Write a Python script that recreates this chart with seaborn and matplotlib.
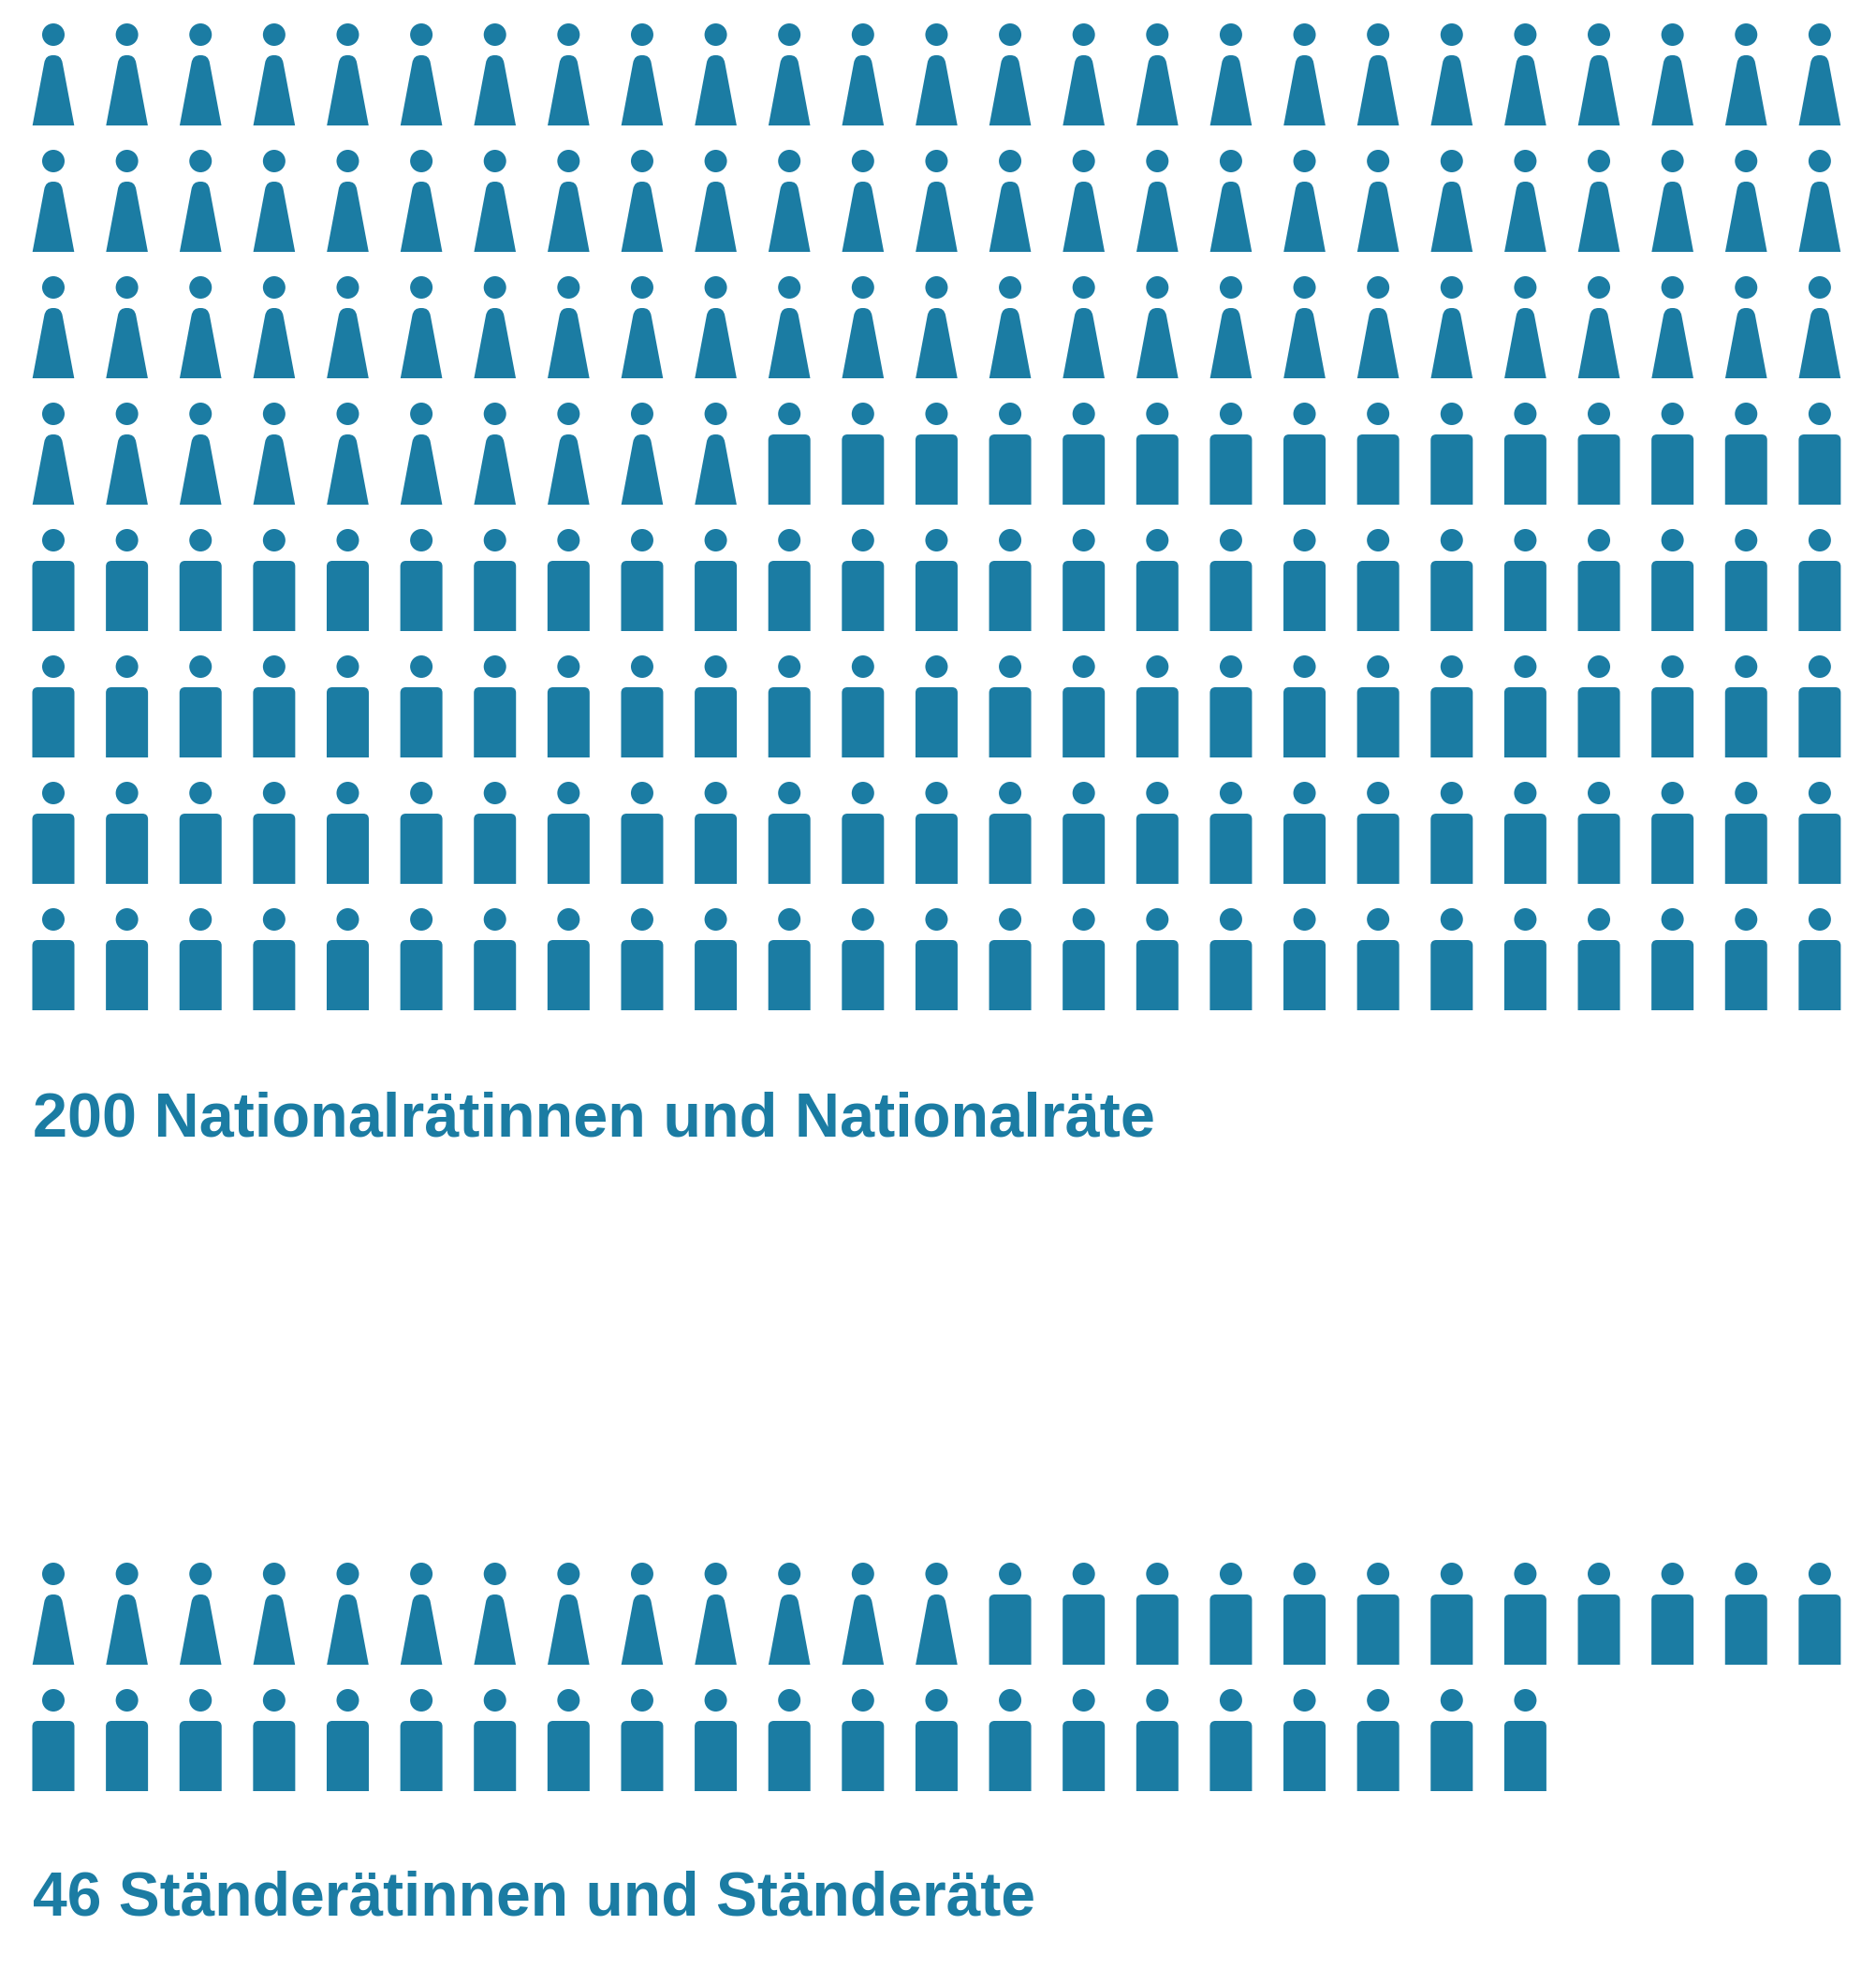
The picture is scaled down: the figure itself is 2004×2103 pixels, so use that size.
#!/usr/bin/env python3
import matplotlib
matplotlib.use("Agg")
import matplotlib.pyplot as plt
from matplotlib.path import Path
import pandas as pd
import seaborn as sns

ROW_LEN = 25
NR_WOMEN = 85
NR_MEN = 115
SR_WOMEN = 13
SR_MEN = 33
NR_LABEL = "200 Nationalrätinnen und Nationalräte"
SR_LABEL = "46 Ständerätinnen und Ständeräte"
BLUE = "#1b7ca3"

W, H = 2004, 2103
COL_STEP = 78.62
ROW_STEP = 135.0
SR_OFFSET = 1644 / ROW_STEP  # second block starts this many rows lower


def seats(women, men, first_row):
    kinds = ["f"] * women + ["m"] * men
    return pd.DataFrame({
        "col": [i % ROW_LEN for i in range(len(kinds))],
        "row": [first_row + i // ROW_LEN for i in range(len(kinds))],
        "kind": kinds,
    })


def body(kind):
    # icon units are pixels, origin at icon centre, y up
    if kind == "f":
        verts = [(-22.3, -54.5), (-9.8, 12), (-8.6, 18.5), (-5.5, 20.5), (0, 20.5),
                 (5.5, 20.5), (8.6, 18.5), (9.8, 12), (22.3, -54.5), (-22.3, -54.5)]
        codes = [Path.MOVETO, Path.LINETO, Path.CURVE4, Path.CURVE4, Path.CURVE4,
                 Path.CURVE4, Path.CURVE4, Path.CURVE4, Path.LINETO, Path.CLOSEPOLY]
    else:
        r = 6
        verts = [(-22.5, -54.5), (-22.5, 20.5 - r), (-22.5, 20.5), (-22.5 + r, 20.5), (22.5 - r, 20.5),
                 (22.5, 20.5), (22.5, 20.5 - r), (22.5, -54.5), (-22.5, -54.5)]
        codes = [Path.MOVETO, Path.LINETO, Path.CURVE3, Path.CURVE3, Path.LINETO,
                 Path.CURVE3, Path.CURVE3, Path.LINETO, Path.CLOSEPOLY]
    head = Path.circle((0, 42.5), 12)
    return Path.make_compound_path(head, Path(verts, codes))


def main():
    sns.set_style("white")
    fig = plt.figure(figsize=(W / 100, H / 100), dpi=100)
    ax = fig.add_axes([0, 0, 1, 1])
    df = pd.concat([seats(NR_WOMEN, NR_MEN, 0), seats(SR_WOMEN, SR_MEN, SR_OFFSET)])
    sns.scatterplot(data=df, x="col", y="row", style="kind",
                    markers={"f": body("f"), "m": body("m")},
                    s=(109 * 0.72) ** 2, color=BLUE, linewidth=0, legend=False, ax=ax)
    # centre of first icon sits at (57, 79.5) px
    ax.set_xlim(-57 / COL_STEP, (W - 57) / COL_STEP)
    ax.set_ylim((H - 79.5) / ROW_STEP, -79.5 / ROW_STEP)
    ax.axis("off")

    for label, y, size in [(NR_LABEL, 1213, 48), (SR_LABEL, 2046, 47.5)]:
        fig.text(35 / W, 1 - y / H, label, color=BLUE, fontsize=size, fontweight="bold",
                 family="Liberation Sans", va="baseline", ha="left")
    fig.savefig("out.png", dpi=100, facecolor="white")


if __name__ == "__main__":
    main()
